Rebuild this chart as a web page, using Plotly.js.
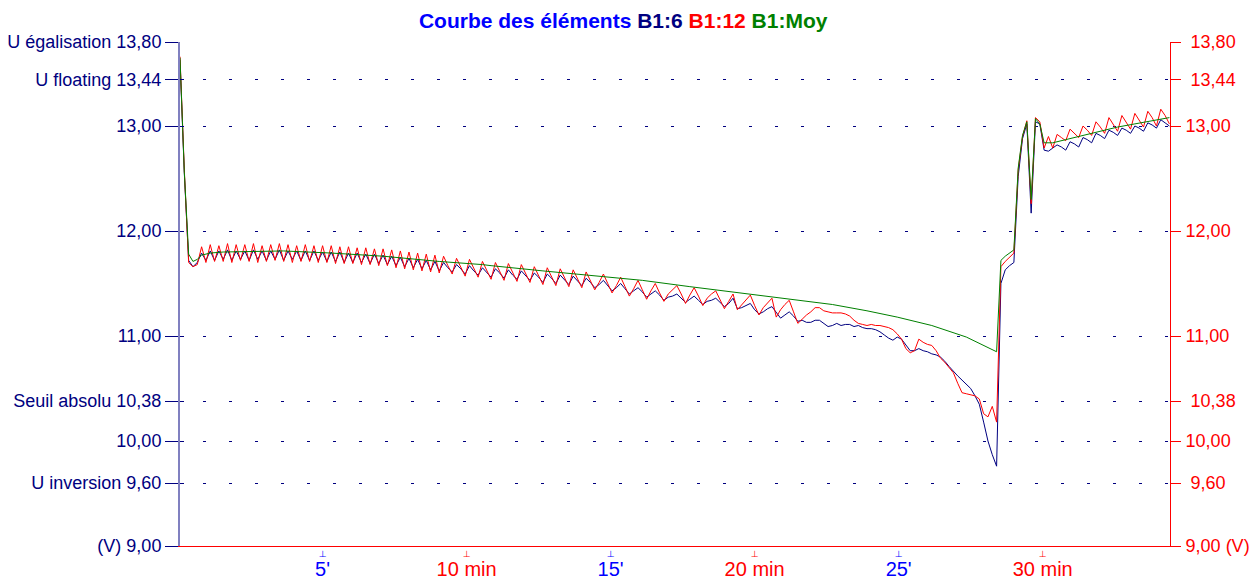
<!DOCTYPE html>
<html><head><meta charset="utf-8">
<script src="https://cdn.plot.ly/plotly-3.0.1.min.js"></script>
<style>html,body{margin:0;padding:0;background:#fff}#chart{width:1259px;height:580px}</style>
</head><body><div id="chart"></div>
<script>
// Sampling of the recorder (minutes)
const startMin = 0.05;
const stepMin = 0.15;

// B1:6 (V)
const b16 = [
13.63,12.55,11.72,11.66,11.70,11.79,11.72,11.81,11.72,11.81,
11.73,11.82,11.72,11.81,11.73,11.81,11.72,11.82,11.73,11.81,
11.72,11.81,11.73,11.82,11.72,11.81,11.73,11.81,11.72,11.81,
11.72,11.81,11.72,11.80,11.71,11.80,11.71,11.80,11.70,11.79,
11.70,11.79,11.70,11.78,11.69,11.78,11.69,11.77,11.68,11.76,
11.67,11.75,11.66,11.74,11.65,11.73,11.64,11.72,11.63,11.71,
11.62,11.70,11.65,11.61,11.68,11.64,11.59,11.67,11.62,11.58,
11.65,11.61,11.56,11.64,11.60,11.55,11.63,11.58,11.54,11.62,
11.57,11.53,11.60,11.56,11.51,11.59,11.55,11.50,11.58,11.53,
11.49,11.57,11.52,11.48,11.55,11.51,11.46,11.49,11.53,11.48,
11.43,11.46,11.50,11.45,11.40,11.43,11.46,11.42,11.37,11.40,
11.43,11.39,11.34,11.37,11.38,11.40,11.36,11.32,11.35,11.38,
11.34,11.30,11.33,11.34,11.36,11.32,11.28,11.31,11.36,11.26,
11.27,11.29,11.31,11.25,11.21,11.23,11.26,11.28,11.23,11.17,
11.20,11.23,11.19,11.14,11.15,11.13,11.13,11.15,11.15,11.12,
11.09,11.10,11.12,11.10,11.11,11.11,11.09,11.10,11.08,11.07,
11.07,11.06,11.04,11.01,10.98,10.96,10.99,10.97,10.92,10.86,
10.86,10.88,10.86,10.85,10.83,10.82,10.80,10.76,10.71,10.66,
10.62,10.58,10.54,10.50,10.43,10.35,10.18,10.00,9.87,9.76,
11.50,11.63,11.67,11.70,12.52,12.88,13.02,12.17,13.04,13.02,
12.77,12.76,12.79,12.82,12.80,12.77,12.85,12.83,12.80,12.89,
12.87,12.84,12.93,12.91,12.88,12.96,12.94,12.91,12.98,12.96,
12.93,13.00,12.98,12.95,13.03,13.01,12.98,13.06,13.03,13.00
];

// B1:12 (V)
const b112 = [
13.66,12.58,11.70,11.66,11.68,11.85,11.70,11.87,11.71,11.86,
11.71,11.88,11.70,11.87,11.72,11.87,11.71,11.88,11.70,11.86,
11.71,11.87,11.72,11.88,11.71,11.87,11.70,11.86,11.71,11.87,
11.71,11.86,11.70,11.86,11.70,11.86,11.69,11.85,11.69,11.85,
11.69,11.84,11.68,11.84,11.68,11.83,11.67,11.83,11.67,11.82,
11.65,11.81,11.64,11.80,11.63,11.79,11.62,11.78,11.61,11.77,
11.60,11.76,11.67,11.59,11.74,11.66,11.57,11.73,11.64,11.56,
11.71,11.63,11.54,11.70,11.62,11.53,11.69,11.60,11.52,11.68,
11.59,11.51,11.66,11.58,11.49,11.65,11.57,11.48,11.64,11.55,
11.47,11.63,11.54,11.46,11.61,11.53,11.44,11.51,11.59,11.50,
11.41,11.48,11.56,11.47,11.38,11.45,11.53,11.44,11.35,11.43,
11.50,11.41,11.33,11.40,11.44,11.48,11.40,11.31,11.39,11.46,
11.38,11.29,11.36,11.40,11.43,11.35,11.26,11.33,11.40,11.25,
11.30,11.35,11.39,11.29,11.20,11.27,11.32,11.36,11.18,11.25,
11.30,11.34,11.23,11.12,11.16,11.20,11.23,11.27,11.27,11.24,
11.23,11.22,11.22,11.22,11.21,11.19,11.15,11.12,11.11,11.10,
11.11,11.10,11.10,11.09,11.08,11.06,11.02,10.97,10.88,10.84,
10.86,10.97,10.94,10.92,10.91,10.86,10.79,10.75,10.70,10.65,
10.55,10.46,10.45,10.44,10.43,10.40,10.26,10.23,10.33,10.18,
11.66,11.71,11.75,11.79,12.58,12.90,13.05,12.26,13.08,13.04,
12.79,12.90,12.79,12.92,12.89,12.86,12.97,12.93,12.89,13.00,
12.96,12.91,13.04,12.99,12.93,13.08,13.02,12.95,13.10,13.04,
12.97,13.12,13.06,12.99,13.14,13.08,13.00,13.16,13.10,13.02
];

// B1:Moy (time in min, V)
const moyTime = [0.05,0.2,0.35,0.5,0.65,0.8,1.1,1.55,3.65,5.3,
7.1,9.05,10.55,10.85,12.65,14.3,16.1,17.75,19.25,20.3,
21.5,22.7,23.9,24.95,26.15,27.35,28.4,28.55,28.7,28.85,
29.0,29.15,29.3,29.45,29.6,29.75,29.9,30.05,30.35,30.8,
31.4,32.0,32.6,33.2,33.8,34.4];
const moyVolt = [13.65,12.56,11.78,11.71,11.73,11.77,11.79,11.80,11.81,11.79,
11.76,11.71,11.68,11.67,11.62,11.58,11.53,11.47,11.42,11.38,
11.34,11.30,11.24,11.18,11.10,10.99,10.85,11.72,11.76,11.79,
11.82,12.60,12.91,13.04,12.30,13.07,13.02,12.84,12.84,12.87,
12.91,12.95,12.99,13.02,13.05,13.08];

// Axes
const yTicks = [9, 9.6, 10, 10.38, 11, 12, 13, 13.44, 13.8];
const yLeftLabels = ["(V) 9,00","U inversion 9,60","10,00","Seuil absolu 10,38","11,00","12,00","13,00","U floating 13,44","U égalisation 13,80"];
const yRightLabels = ["9,00 (V)","\u00a09,60","10,00","\u00a010,38","11,00","12,00","13,00","\u00a013,44","\u00a013,80"];
const xTicks = [5, 10, 15, 20, 25, 30];
const xLabels = ["5'", "10 min", "15'", "20 min", "25'", "30 min"];
const xLabelColors = ["#0000ff", "#ff0000", "#0000ff", "#ff0000", "#0000ff", "#ff0000"];

const FONT = '"Liberation Sans", Arial, sans-serif';
const xRange = [0.05, 34.42];
const yRange = [9, 13.8];

const traces = [
  {type:'scatter', mode:'lines', name:'B1:6', x0:startMin, dx:stepMin, y:b16,
   line:{color:'#000080', width:1}, xaxis:'x', yaxis:'y'},
  {type:'scatter', mode:'lines', name:'B1:12', x0:startMin, dx:stepMin, y:b112,
   line:{color:'#ff0000', width:1}, xaxis:'x', yaxis:'y'},
  {type:'scatter', mode:'lines', name:'B1:Moy', x:moyTime, y:moyVolt,
   line:{color:'#008000', width:1}, xaxis:'x', yaxis:'y'},
  {type:'scatter', mode:'lines', x:[null], y:[null], xaxis:'x2', yaxis:'y', hoverinfo:'skip'},
  {type:'scatter', mode:'lines', x:[null], y:[null], xaxis:'x', yaxis:'y2', hoverinfo:'skip'},
  {type:'scatter', mode:'lines', x:[null], y:[null], xaxis:'x', yaxis:'y3', hoverinfo:'skip'}
];

const layout = {
  width:1259, height:580,
  margin:{l:180, r:89, t:42, b:34, pad:0},
  paper_bgcolor:'#ffffff', plot_bgcolor:'#ffffff',
  showlegend:false,
  font:{family:FONT, size:18, color:'#000080'},
  title:{
    text:'<b>Courbe des éléments <span style="color:#000080">B1:6</span> <span style="color:#ff0000">B1:12</span> <span style="color:#008000">B1:Moy</span></b>',
    font:{family:FONT, size:21, color:'#0000ff'},
    xref:'container', x:0.495, xanchor:'center',
    yref:'container', y:1 - 21/580, yanchor:'middle'
  },
  xaxis:{
    range:xRange, tickmode:'array', tickvals:xTicks,
    ticktext:xLabels.map((t,i)=>'<span style="color:'+xLabelColors[i]+'">'+t+'</span>'),
    tickfont:{family:FONT, size:20}, ticks:'', ticklabelstandoff:5,
    showgrid:false, zeroline:false, showline:true, linecolor:'#ff0000', linewidth:1
  },
  xaxis2:{
    overlaying:'x', anchor:'y', side:'bottom', range:xRange, tickmode:'array', tickvals:xTicks,
    ticktext:xLabelColors.map(c=>'<span style="color:'+c+'">\u22A5</span>'),
    tickfont:{family:'"DejaVu Sans", sans-serif', size:9}, ticks:'', ticklabelstandoff:1,
    showgrid:false, zeroline:false, showline:false
  },
  yaxis:{
    range:yRange, tickmode:'array', tickvals:yTicks, ticktext:yLeftLabels,
    tickfont:{family:FONT, size:18, color:'#000080'},
    ticks:'outside', ticklen:13, tickcolor:'#000080', tickwidth:1, ticklabelstandoff:0,
    showline:true, linecolor:'#8080c0', linewidth:2,
    showgrid:true, gridcolor:'#000080', gridwidth:1, griddash:'0px,23px,3px,0px',
    zeroline:false
  },
  yaxis2:{
    overlaying:'y', anchor:'x', side:'right', range:yRange, tickmode:'array', tickvals:yTicks, ticktext:yRightLabels,
    tickfont:{family:FONT, size:18, color:'#ff0000'},
    ticks:'outside', ticklen:10, tickcolor:'#ff0000', tickwidth:1, ticklabelstandoff:1,
    showline:true, linecolor:'#ff0000', linewidth:1, showgrid:false, zeroline:false
  },
  yaxis3:{
    overlaying:'y', anchor:'x', side:'left', range:yRange, tickmode:'array', tickvals:yTicks,
    showticklabels:false, ticks:'inside', ticklen:4, tickcolor:'#000080', tickwidth:1,
    showline:false, showgrid:false, zeroline:false
  }
};

Plotly.newPlot('chart', traces, layout, {staticPlot:true, displayModeBar:false});
</script>
</body></html>
